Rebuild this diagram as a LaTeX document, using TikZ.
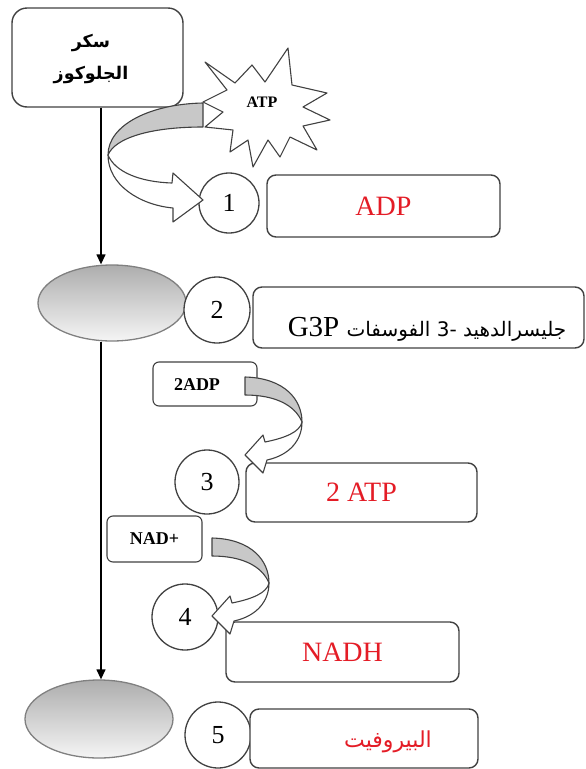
\documentclass[tikz,border=0pt]{standalone}
\usepackage{fontspec}
\setmainfont{Liberation Serif}
\newfontfamily\arabicfont[Script=Arabic]{DejaVu Sans}
\TeXXeTstate=1
\usetikzlibrary{shapes.geometric,arrows.meta}
\definecolor{labelred}{RGB}{228,28,38}
\definecolor{edge}{RGB}{65,65,65}
\definecolor{bandgray}{RGB}{200,200,200}
\tikzset{
  box/.style={draw=edge, line width=1.4pt, rounded corners=9pt, fill=white, inner sep=0pt},
  tag/.style={draw=edge, line width=1.1pt, rounded corners=6pt, fill=white, inner sep=0pt},
  stepno/.style={circle, draw=edge, line width=1.3pt, fill=white, minimum size=#1,
    inner sep=0pt, font=\fontsize{26}{30}\selectfont},
  blob/.style={ellipse, draw=black!50, line width=1.3pt, top color=black!32,
    bottom color=black!4, inner sep=0pt},
  flow/.style={line width=1.3pt, -{Triangle[length=10pt,width=9pt]}},
  redlbl/.style={text=labelred, font=\fontsize{28}{32}\selectfont},
  boldlbl/.style={font=\bfseries\fontsize{18}{20}\selectfont},
  band/.style={draw=edge, line width=1.1pt, line join=round},
  % curved "bent back" arrow: shaded back band on top, white front band with head
  bentarrow/.pic={
    \path[band, fill=white] (57,45) .. controls (57,63) and (45,78) .. (22,83)
      -- (18,96) -- (0,78) -- (18,58) -- (20,65)
      .. controls (40,61) and (55,55) .. (57,45) -- cycle;
    \path[band, fill=bandgray] (0,0) .. controls (40,1) and (57,23) .. (57,45)
      .. controls (50,28) and (30,18) .. (0,18) -- cycle;
  }
}
\begin{document}
\begin{tikzpicture}[x=1pt, y=-1pt]
\useasboundingbox (0,0) rectangle (586,769);

% glucose
\node[box, rounded corners=15pt, minimum width=171pt, minimum height=99pt] (glucose) at (97.5,57.5) {};
\node[align=center, font=\arabicfont\bfseries\fontsize{17.5}{32}\selectfont] (glucosetext) at (91,59)
  {\beginR سكر\endR\\\beginR الجلوكوز\endR};

% intermediates along the main pathway
\node[blob, minimum width=148pt, minimum height=76pt] (e1) at (112,303) {};
\node[blob, minimum width=148pt, minimum height=78pt] (e2) at (99,719) {};

\coordinate (spine) at (101,0);
\draw[flow] (glucose.south -| spine) -- (spine |- e1.north);
\draw[flow] (spine |- e1.south) -- (spine |- e2.north);

% step 1
\node[stepno=60pt] (c1) at (229,203) {1};
\node[box, minimum width=233pt, minimum height=62pt, redlbl] (adp) at (383.5,206) {ADP};

% step 2
\node[stepno=66pt] (c2) at (217,310) {2};
\node[box, minimum width=331pt, minimum height=61pt] (g3p) at (418.5,317.5) {};
\node[font=\fontsize{29}{32}\selectfont, inner sep=0pt] (g3ptext) at (427,329)
  {G3P {\arabicfont\fontsize{20}{26}\selectfont\beginR جليسرالدهيد \beginL-3\endL{} الفوسفات\endR}};

% step 3
\node[tag, minimum width=104pt, minimum height=44pt] (adp2) at (205,384) {};
\node[boldlbl] (adp2text) at (197,385) {2ADP};
\node[stepno=64pt] (c3) at (207,482) {3};
\node[box, minimum width=231pt, minimum height=59pt, redlbl] (atp2) at (361.5,492.5) {2 ATP};

% step 4
\node[tag, minimum width=95pt, minimum height=46pt, boldlbl] (nad) at (154.5,539) {NAD+};
\node[stepno=66pt] (c4) at (185,617) {4};
\node[box, minimum width=233pt, minimum height=60pt, redlbl] (nadh) at (342.5,652) {NADH};

% step 5
\node[stepno=66pt] (c5) at (218,735) {5};
\node[box, minimum width=228pt, minimum height=59pt] (pyr) at (364,738.5) {};
\node[text=labelred, font=\arabicfont\fontsize{22}{26}\selectfont] (pyrtext) at (388,742)
  {\beginR البيروفيت\endR};

% ATP investment arrow of step 1
\path[band, fill=white] (108,155) .. controls (108,185) and (140,205) .. (173,208)
  -- (173,222) -- (203,200) -- (173,173) -- (172,183)
  .. controls (140,182) and (115,172) .. (108,155) -- cycle;
\path[band, fill=bandgray] (203,103) .. controls (150,104) and (108,125) .. (108,155)
  .. controls (115,138) and (150,127) .. (203,127) -- cycle;

% ATP burst
\path[band, fill=white] (205,62) -- (235,83) -- (252,65) -- (265,82) -- (288,48)
  -- (292,85) -- (327,93) -- (303,107) -- (330,120) -- (303,126) -- (317,150)
  -- (290,137) -- (280,157) -- (268,140) -- (253,167) -- (248,140) -- (230,152)
  -- (233,130) -- (205,127) -- (223,112) -- (203,102) -- (227,90) -- cycle;
\node[font=\bfseries\fontsize{16}{18}\selectfont] (atp) at (262,102) {ATP};

% arrows of steps 3 and 4
\pic at (245,377) {bentarrow};
\pic at (212,538) {bentarrow};
\end{tikzpicture}
\end{document}
